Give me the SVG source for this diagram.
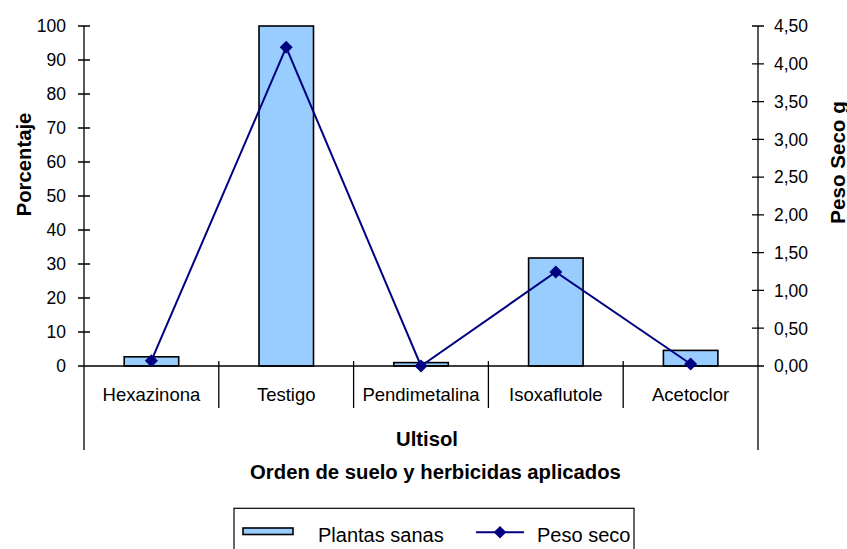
<svg xmlns="http://www.w3.org/2000/svg" width="847" height="549" viewBox="0 0 847 549">
  <style>
    text { font-family: "Liberation Sans", Arial, sans-serif; font-size: 17.5px; fill: #000; }
    .b { font-weight: bold; font-size: 20.3px; }
    .c { font-size: 18.5px; }
    .lg { font-size: 20px; }
    .l { text-anchor: end; }
    .m { text-anchor: middle; }
    .ax { stroke: #000; stroke-width: 1.3; fill: none; }
    .bar { fill: #99CCFF; stroke: #000; stroke-width: 1.6; }
    .ser { stroke: #000080; stroke-width: 2; fill: none; }
  </style>
  <defs>
    <marker id="dia" viewBox="-7 -7 14 14" markerWidth="14" markerHeight="14" markerUnits="userSpaceOnUse" refX="0" refY="0">
      <path d="M0,-6.5 L6.5,0 L0,6.5 L-6.5,0 Z" fill="#000080"/>
    </marker>
  </defs>
  <rect width="847" height="549" fill="#fff"/>

  <!-- bars: Plantas sanas (%) -->
  <g id="bars">
    <rect class="bar" x="124.2" y="356.8" width="54.5" height="9.2"/>
    <rect class="bar" x="259" y="26" width="54.5" height="340"/>
    <rect class="bar" x="393.8" y="362.6" width="54.5" height="3.4"/>
    <rect class="bar" x="528.6" y="258" width="54.5" height="108"/>
    <rect class="bar" x="663.4" y="350.4" width="54.5" height="15.6"/>
  </g>

  <!-- axes -->
  <g id="axes">
    <path class="ax" d="M84,26 V450 M758,26 V450 M78,366 H764"/>
    <!-- left ticks -->
    <path class="ax" d="M78,26 H90 M78,60 H90 M78,94 H90 M78,128 H90 M78,162 H90 M78,196 H90 M78,230 H90 M78,264 H90 M78,298 H90 M78,332 H90"/>
    <!-- right ticks -->
    <path class="ax" d="M752,26 H764 M752,63.8 H764 M752,101.6 H764 M752,139.3 H764 M752,177.1 H764 M752,214.9 H764 M752,252.7 H764 M752,290.4 H764 M752,328.2 H764"/>
    <!-- category separators -->
    <path class="ax" d="M218.8,361 V408 M353.6,361 V408 M488.4,361 V408 M623.2,361 V408"/>
  </g>

  <!-- left tick labels -->
  <g id="left-labels">
    <text class="l" x="66" y="32.3">100</text>
    <text class="l" x="66" y="66.3">90</text>
    <text class="l" x="66" y="100.3">80</text>
    <text class="l" x="66" y="134.3">70</text>
    <text class="l" x="66" y="168.3">60</text>
    <text class="l" x="66" y="202.3">50</text>
    <text class="l" x="66" y="236.3">40</text>
    <text class="l" x="66" y="270.3">30</text>
    <text class="l" x="66" y="304.3">20</text>
    <text class="l" x="66" y="338.3">10</text>
    <text class="l" x="66" y="372.3">0</text>
  </g>

  <!-- right tick labels -->
  <g id="right-labels">
    <text x="774" y="32.3">4,50</text>
    <text x="774" y="70.1">4,00</text>
    <text x="774" y="107.9">3,50</text>
    <text x="774" y="145.6">3,00</text>
    <text x="774" y="183.4">2,50</text>
    <text x="774" y="221.2">2,00</text>
    <text x="774" y="259">1,50</text>
    <text x="774" y="296.7">1,00</text>
    <text x="774" y="334.5">0,50</text>
    <text x="774" y="372.3">0,00</text>
  </g>

  <!-- category labels -->
  <g id="categories">
    <text class="m c" x="151.4" y="401.3">Hexazinona</text>
    <text class="m c" x="286.2" y="401.3">Testigo</text>
    <text class="m c" x="421" y="401.3">Pendimetalina</text>
    <text class="m c" x="555.8" y="401.3">Isoxaflutole</text>
    <text class="m c" x="690.6" y="401.3">Acetoclor</text>
    <text class="m b" x="427" y="445.5">Ultisol</text>
  </g>

  <!-- axis titles -->
  <g id="titles">
    <text class="m b" x="435.5" y="478.5">Orden de suelo y herbicidas aplicados</text>
    <text class="m b" transform="translate(30.5,164.5) rotate(-90)">Porcentaje</text>
    <text class="m b" transform="translate(844.5,162.5) rotate(-90)" style="font-size:20.6px">Peso Seco g</text>
  </g>

  <!-- line series: Peso seco -->
  <g id="connectors">
    <polyline class="ser" points="151.4,360.7 286.2,47.3 421,366 555.8,272 690.6,364" marker-start="url(#dia)" marker-mid="url(#dia)" marker-end="url(#dia)"/>
  </g>

  <!-- legend -->
  <g id="legend">
    <rect x="234" y="508.3" width="400" height="60" fill="#fff" stroke="#000" stroke-width="1.2"/>
    <rect class="bar" x="243" y="528" width="50" height="6.5"/>
    <text class="lg" x="318" y="541.7">Plantas sanas</text>
    <path class="ser" d="M476,532.3 H524"/>
    <path d="M500,526 L506.3,532.3 L500,538.6 L493.7,532.3 Z" fill="#000080"/>
    <text class="lg" x="537" y="541.7">Peso seco</text>
  </g>
</svg>
